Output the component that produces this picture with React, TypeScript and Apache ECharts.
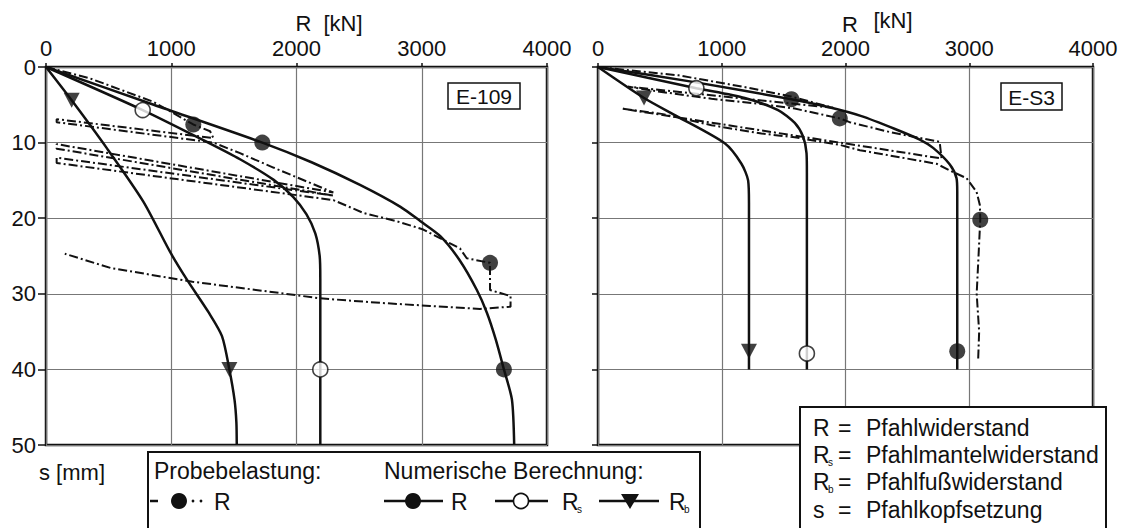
import React, { useEffect, useRef } from "react";
import * as echarts from "echarts";

// ---------- axes ----------
const xMin = 0;
const xMax = 4000;
const xStep = 1000;
const yMin = 0;
const yMax = 50;
const yStep = 10;

// ---------- E-109 (left) ----------
const e109Probe: number[][] = [
  [0, 0], [350, 1.5], [857, 4.6], [1176, 7.6], [1310, 8.5], [1336, 9.4],
  [85, 6.9], [85, 7.3], [1336, 10.0],
  [1549, 11.4], [1815, 13.3], [2294, 16.6],
  [85, 10.2], [85, 10.8], [2294, 17.0],
  [85, 12.0], [85, 12.7], [2294, 17.6],
  [2533, 19.3], [2800, 20.4], [3012, 21.5], [3199, 23.1], [3305, 24.0], [3359, 25.3], [3545, 25.9],
  [3545, 29.5], [3709, 30.3], [3709, 31.7], [3465, 32.0], [3066, 31.6], [2667, 31.2],
  [2188, 30.6], [1868, 29.9], [1169, 28.4], [519, 26.6], [150, 24.7],
];
const e109ProbeMarkers: number[][] = [[1176, 7.6], [3545, 25.9]];
const e109R: number[][] = [
  [0, 0], [860, 5.0], [1727, 10], [2120, 12.6], [2507, 15.6], [2830, 18.5], [2990, 20.4], [3150, 22.4],
  [3300, 25.5], [3440, 29.5], [3520, 32.5], [3590, 36.0], [3656, 40], [3720, 44], [3738, 50],
];
const e109RMarkers: number[][] = [[1727, 10], [3656, 40]];
const e109Rs: number[][] = [
  [0, 0], [772, 5.7], [1283, 9.9], [1549, 12.2], [1815, 14.9], [1975, 17.2], [2080, 19.5],
  [2150, 22], [2185, 25], [2190, 28], [2190, 50],
];
const e109RsMarkers: number[][] = [[772, 5.7], [2190, 40]];
const e109Rb: number[][] = [
  [0, 0], [205, 4.4], [484, 10.7], [777, 17.8], [992, 24.5], [1124, 28.1], [1300, 32.5], [1405, 35.6],
  [1464, 40], [1505, 44], [1520, 47], [1523, 50],
];
const e109RbMarkers: number[][] = [[205, 4.4], [1464, 40]];

// ---------- E-S3 (right) ----------
const es3Probe: number[][] = [
  [0, 0], [650, 1.1], [1200, 2.7], [1560, 3.9], [1900, 5.4],
  [241, 2.6], [513, 3.3], [917, 4.2], [1321, 4.9], [1590, 5.5], [1954, 6.8],
  [2033, 7.3], [2356, 8.6], [2761, 9.9], [2776, 12.1],
  [189, 5.5], [513, 6.2], [917, 7.7], [1321, 8.8], [1590, 9.3], [1954, 10.3], [2116, 11.0],
  [2493, 12.1], [2736, 12.8], [2870, 13.9], [2978, 14.7], [3059, 16.5], [3086, 18.3], [3089, 20.2],
  [3075, 25], [3060, 30], [3080, 35], [3072, 38.7],
];
const es3ProbeMarkers: number[][] = [[1954, 6.8], [3089, 20.2]];
const es3R: number[][] = [
  [0, 0], [780, 2.0], [1563, 4.27], [1860, 5.3], [2129, 6.5], [2400, 8.2], [2600, 9.6],
  [2708, 10.7], [2843, 12.9], [2897, 14.7], [2903, 16.5], [2903, 40],
];
const es3RMarkers: number[][] = [[1563, 4.27], [2903, 37.6]];
const es3Rs: number[][] = [
  [0, 0], [795, 2.8], [1186, 4.1], [1455, 5.7], [1590, 7.4], [1657, 9.2], [1685, 11.4],
  [1688, 14], [1688, 40],
];
const es3RsMarkers: number[][] = [[795, 2.8], [1688, 37.9]];
const es3Rb: number[][] = [
  [0, 0], [372, 4.1], [647, 6.6], [1024, 10.1], [1159, 12.8], [1213, 15], [1220, 18], [1220, 40],
];
const es3RbMarkers: number[][] = [[372, 4.1], [1220, 37.6]];

// ---------- texts ----------
const axisNameR = "R  [kN]";
const axisNameS = "s [mm]";
const panelLabels = ["E-109", "E-S3"];
const legendTitles = ["Probebelastung:", "Numerische Berechnung:"];
const defWords = ["Pfahlwiderstand", "Pfahlmantelwiderstand", "Pfahlfußwiderstand", "Pfahlkopfsetzung"];

const FONT = "'Liberation Sans', Arial, Helvetica, sans-serif";
const INK = "#111";

function txt(x: number, y: number, text: string, size: number, align = "left", z = 101) {
  return {
    type: "text",
    x,
    y,
    z,
    style: {
      text,
      fill: INK,
      fontSize: size,
      fontFamily: FONT,
      align,
      verticalAlign: "middle",
      textAlign: align,
      textVerticalAlign: "middle",
    },
  };
}

export default function App() {
  const ref = useRef<HTMLDivElement>(null);
  useEffect(() => {
    if (!ref.current) return;
    const chart = echarts.init(ref.current, undefined, { renderer: "svg" });

    const grids = [
      { left: 46, top: 67, width: 501, height: 378 },
      { left: 598, top: 67, width: 495, height: 378 },
    ];

    const mkX = (gi: number) => ({
      type: "value",
      gridIndex: gi,
      position: "top",
      min: xMin,
      max: xMax,
      interval: xStep,
      axisLine: { show: false },
      axisTick: { show: true, length: 4, lineStyle: { color: INK, width: 1.5 } },
      axisLabel: {
        fontSize: 22,
        fontFamily: FONT,
        color: INK,
        margin: 8,
        formatter: (v: number) => String(v),
      },
      splitLine: { show: true, lineStyle: { color: "#777", width: 1.2 } },
    });
    const mkY = (gi: number, labels: boolean) => ({
      type: "value",
      gridIndex: gi,
      inverse: true,
      min: yMin,
      max: yMax,
      interval: yStep,
      axisLine: { show: false },
      axisTick: { show: true, length: labels ? 8 : 6, lineStyle: { color: INK, width: 1.5 } },
      axisLabel: {
        show: labels,
        fontSize: 22,
        fontFamily: FONT,
        color: INK,
        margin: 10,
        formatter: (v: number) => String(v),
      },
      splitLine: { show: true, lineStyle: { color: "#777", width: 1.2 } },
    });

    const line = (gi: number, data: number[][], probe = false) => ({
      type: "line",
      xAxisIndex: gi,
      yAxisIndex: gi,
      data,
      symbol: "none",
      smooth: probe ? false : 0.25,
      lineStyle: probe
        ? { color: INK, width: 2, type: [9, 3, 2, 3] }
        : { color: INK, width: 2.5 },
      z: 3,
    });
    const pts = (gi: number, data: number[][], kind: "filled" | "open" | "tri") => ({
      type: "scatter",
      xAxisIndex: gi,
      yAxisIndex: gi,
      data,
      symbol: kind === "tri" ? "triangle" : "circle",
      symbolRotate: kind === "tri" ? 180 : 0,
      symbolSize: kind === "tri" ? [16, 15] : kind === "open" ? 15 : 16,
      itemStyle:
        kind === "open"
          ? { color: "#fff", borderColor: INK, borderWidth: 1.6 }
          : { color: INK },
      z: 5,
    });

    const graphic: any[] = [
      // axis names
      txt(329, 23, axisNameR, 22, "center"),
      txt(850, 24, "R", 22, "center"),
      txt(893, 20, "[kN]", 22, "center"),
      txt(39, 472, axisNameS, 22, "left"),
      // panel labels
      { type: "rect", z: 100, shape: { x: 448, y: 83, width: 72, height: 26 }, style: { fill: "#fff", stroke: INK, lineWidth: 1.5 } },
      txt(484, 96.5, panelLabels[0], 21, "center"),
      { type: "rect", z: 100, shape: { x: 1001, y: 83, width: 61, height: 27 }, style: { fill: "#fff", stroke: INK, lineWidth: 1.5 } },
      txt(1031.5, 97, panelLabels[1], 21, "center"),
      // left legend box
      { type: "rect", z: 100, shape: { x: 148, y: 452, width: 552, height: 90 }, style: { fill: "#fff", stroke: INK, lineWidth: 2 } },
      txt(154, 471, legendTitles[0], 23),
      txt(384, 471, legendTitles[1], 23),
      // probe symbol
      { type: "line", z: 101, shape: { x1: 150, y1: 501, x2: 158, y2: 501 }, style: { stroke: INK, lineWidth: 2.5 } },
      { type: "circle", z: 101, shape: { cx: 179, cy: 501, r: 8 }, style: { fill: INK } },
      { type: "circle", z: 101, shape: { cx: 193, cy: 501, r: 1.4 }, style: { fill: INK } },
      { type: "circle", z: 101, shape: { cx: 201, cy: 501, r: 1.4 }, style: { fill: INK } },
      txt(214, 502, "R", 23),
      // numerical R
      { type: "line", z: 101, shape: { x1: 384, y1: 501, x2: 443, y2: 501 }, style: { stroke: INK, lineWidth: 2.5 } },
      { type: "circle", z: 101, shape: { cx: 413, cy: 501, r: 8 }, style: { fill: INK } },
      txt(451, 502, "R", 23),
      // numerical Rs
      { type: "line", z: 101, shape: { x1: 495, y1: 501, x2: 548, y2: 501 }, style: { stroke: INK, lineWidth: 2.5 } },
      { type: "circle", z: 102, shape: { cx: 521, cy: 501, r: 7.5 }, style: { fill: "#fff", stroke: INK, lineWidth: 1.6 } },
      txt(562, 502, "R", 23),
      txt(577, 509, "s", 10),
      // numerical Rb
      { type: "line", z: 101, shape: { x1: 599, y1: 501, x2: 659, y2: 501 }, style: { stroke: INK, lineWidth: 2.5 } },
      { type: "polygon", z: 102, shape: { points: [[621, 494], [639, 494], [630, 509]] }, style: { fill: INK } },
      txt(669, 502, "R", 23),
      txt(684, 509, "b", 10),
      // right legend box
      { type: "rect", z: 100, shape: { x: 800, y: 407, width: 306, height: 135 }, style: { fill: "#fff", stroke: INK, lineWidth: 2 } },
      txt(813, 428, "R", 23),
      txt(813, 455, "R", 23),
      txt(828, 462, "s", 10),
      txt(813, 482, "R", 23),
      txt(828, 489, "b", 10),
      txt(813, 510, "s", 23),
      txt(838, 428, "=", 23),
      txt(838, 455, "=", 23),
      txt(838, 482, "=", 23),
      txt(838, 510, "=", 23),
      txt(866, 428, defWords[0], 23),
      txt(866, 455, defWords[1], 23),
      txt(866, 482, defWords[2], 23),
      txt(866, 510, defWords[3], 23),
    ];

    chart.setOption({
      animation: false,
      backgroundColor: "#fff",
      grid: grids.map((g) => ({ ...g, show: true, borderColor: INK, borderWidth: 2.5, backgroundColor: "transparent" })),
      xAxis: [mkX(0), mkX(1)],
      yAxis: [mkY(0, true), mkY(1, false)],
      series: [
        line(0, e109Probe, true),
        line(0, e109R),
        line(0, e109Rs),
        line(0, e109Rb),
        pts(0, e109ProbeMarkers, "filled"),
        pts(0, e109RMarkers, "filled"),
        pts(0, e109RsMarkers, "open"),
        pts(0, e109RbMarkers, "tri"),
        line(1, es3Probe, true),
        line(1, es3R),
        line(1, es3Rs),
        line(1, es3Rb),
        pts(1, es3ProbeMarkers, "filled"),
        pts(1, es3RMarkers, "filled"),
        pts(1, es3RsMarkers, "open"),
        pts(1, es3RbMarkers, "tri"),
      ],
      graphic,
    });
    return () => chart.dispose();
  }, []);

  return (
    <div
      ref={ref}
      style={{ position: "absolute", left: 0, top: 0, width: 1126, height: 528, background: "#fff" }}
    />
  );
}
